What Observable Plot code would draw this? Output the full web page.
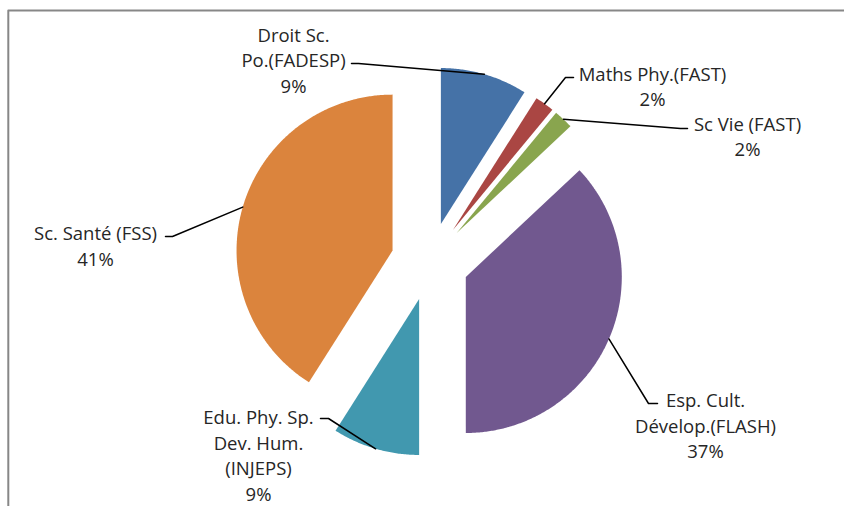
<!DOCTYPE html>
<html><head><meta charset="utf-8">
<script src="https://cdn.jsdelivr.net/npm/d3@7"></script>
<script src="https://cdn.jsdelivr.net/npm/@observablehq/plot@0.6"></script>
<style>html,body{margin:0;padding:0;background:#fff} svg{display:block}</style>
</head><body><div id="chart"></div>
<script>
// ---- data ----
const categories = [
  "Droit Sc.\nPo.(FADESP)",
  "Maths Phy.(FAST)",
  "Sc Vie (FAST)",
  "Esp. Cult.\nDévelop.(FLASH)",
  "Edu. Phy. Sp.\nDev. Hum.\n(INJEPS)",
  "Sc. Santé (FSS)"
];
const values = [9, 2, 2, 37, 9, 41];
const colors = ["#4572A7", "#AA4643", "#89A54E", "#71588F", "#4198AF", "#DB843D"];

// ---- layout ----
const W = 844, H = 506;
const cx = 429.5, cy = 261, R = 156, explode = 39;
const labelPos = [[293, 58.5], [652, 85], [747, 135], [705, 424], [258, 454], [95, 244.5]];
const labelElbow = [
  [[351, 63], [358, 63]],
  [[573, 77], [565, 77]],
  [[687, 128], [680, 128]],
  [[657, 403], [648, 403]],
  [[320, 418], [328, 418]],
  [[165, 236], [172, 236]]
];

const total = d3.sum(values);
const toRad = Math.PI / 180;
let acc = 0;
const slices = values.map((v, i) => {
  const a0 = acc / total * 360; acc += v; const a1 = acc / total * 360;
  const mid = (a0 + a1) / 2;
  const ax = cx + explode * Math.sin(mid * toRad), ay = cy - explode * Math.cos(mid * toRad);
  const pts = [{x: ax, y: ay}];
  const n = Math.max(8, Math.ceil((a1 - a0) * 2));
  for (let k = 0; k <= n; k++) {
    const a = (a0 + (a1 - a0) * k / n) * toRad;
    pts.push({x: ax + R * Math.sin(a), y: ay - R * Math.cos(a)});
  }
  pts.push({x: ax, y: ay});
  const end = {x: ax + R * Math.sin(mid * toRad), y: ay - R * Math.cos(mid * toRad)};
  return {i, pts, end, mid};
});

const leaders = slices.flatMap((s, i) => [
  {i, x: labelElbow[i][0][0], y: labelElbow[i][0][1]},
  {i, x: labelElbow[i][1][0], y: labelElbow[i][1][1]},
  {i, x: s.end.x, y: s.end.y}
]);

const labels = categories.map((c, i) => ({
  x: labelPos[i][0], y: labelPos[i][1],
  text: c + "\n" + Math.round(values[i] / total * 100) + "%"
}));

const frame = [{x: 7.8, y: H}, {x: 7.8, y: 10}, {x: W, y: 10}];

const chart = Plot.plot({
  width: W, height: H,
  margin: 0,
  x: {domain: [0, W], range: [0, W], axis: null},
  y: {domain: [0, H], range: [0, H], axis: null},
  style: {background: "#fff", overflow: "visible"},
  marks: [
    Plot.line(frame, {x: "x", y: "y", stroke: "#878787", strokeWidth: 2}),
    ...slices.map(s => Plot.line(s.pts, {x: "x", y: "y", fill: colors[s.i], stroke: "none", curve: "linear"})),
    Plot.line(leaders, {x: "x", y: "y", z: "i", stroke: "#000", strokeWidth: 1.5}),
    Plot.text(labels, {x: "x", y: "y", text: "text", fontSize: 18.5, lineHeight: 1.38, fontFamily: "Open Sans", fill: "#262626", textAnchor: "middle"})
  ]
});
document.getElementById("chart").appendChild(chart);
</script>
</body></html>
